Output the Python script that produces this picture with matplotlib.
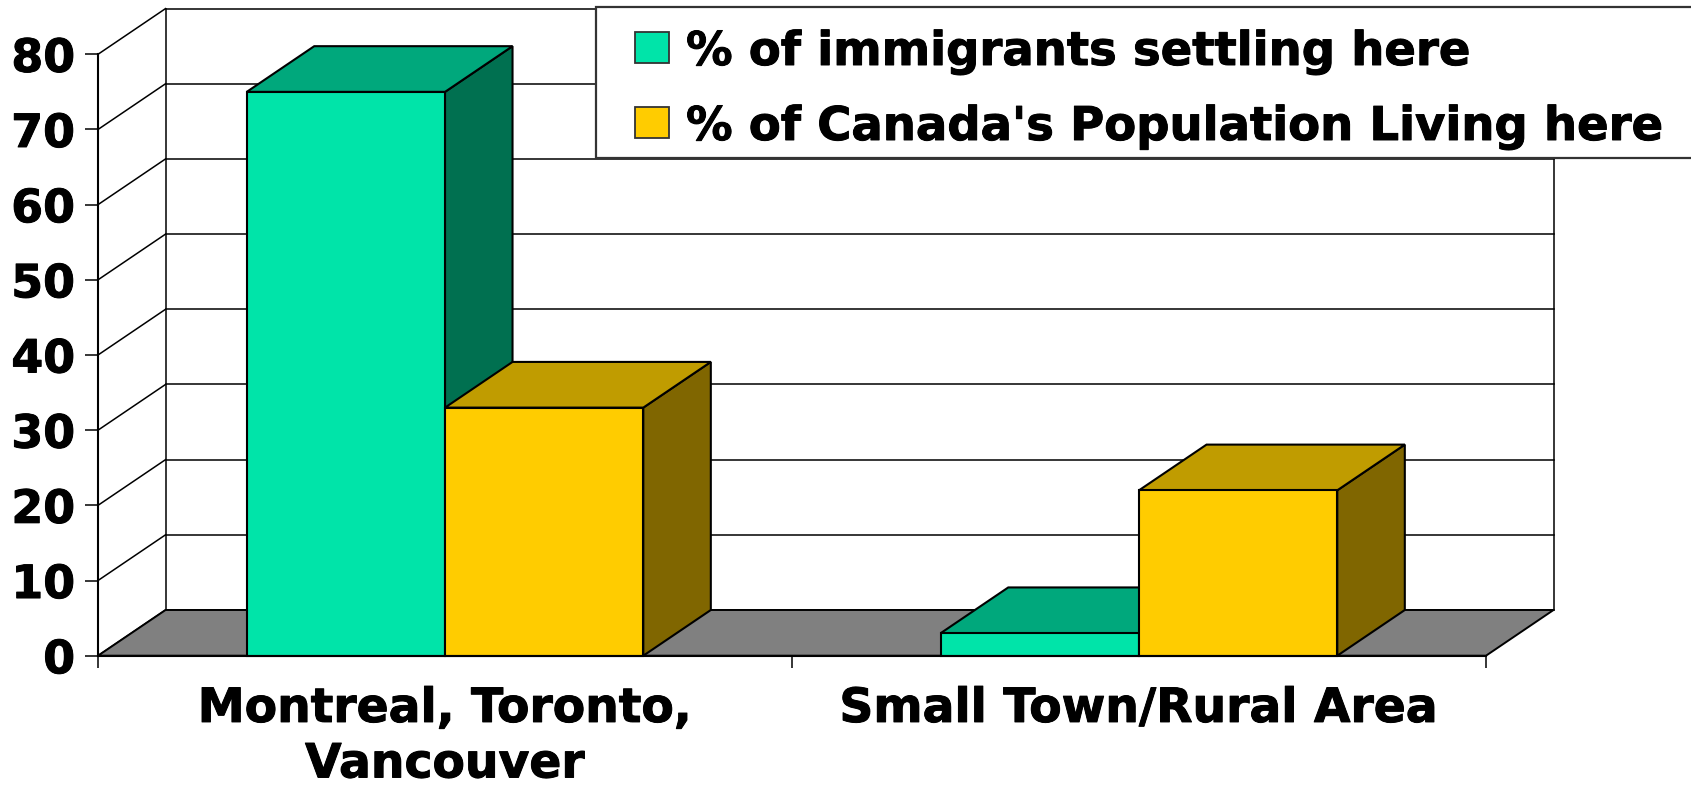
import numpy as np
import matplotlib.pyplot as plt
import matplotlib.patheffects as pe
from matplotlib.patches import Polygon, Rectangle
from matplotlib.transforms import Affine2D

# values (%) for each area
categories = ["Montreal, Toronto,\nVancouver", "Small Town/Rural Area"]
series_names = ["% of immigrants settling here", "% of Canada's Population Living here"]
immigrants = [75, 3]
population = [33, 22]

# face colours: front, top, side
teal = ("#00E4A9", "#00A87C", "#007050")
gold = ("#FFCC00", "#C09C00", "#806600")

W, H = 1691, 787
fig = plt.figure(figsize=(W / 100, H / 100), dpi=100)
ax = fig.add_axes([98 / W, 1 - 655.7 / H, 1388 / W, 601.4 / H])
ax.set_xlim(0, 2)
ax.set_ylim(0, 80)

# depth of the 3d box in data units
dx, dy = 0.0973, 6.08
font = dict(family="DejaVu Sans", weight="bold")
heavy = [pe.withStroke(linewidth=0.7, foreground="black")]

# back wall + side wall grid
for v in range(0, 90, 10):
    ax.plot([dx, 2 + dx], [v + dy, v + dy], color="black", lw=1.1, zorder=1, clip_on=False)
    ax.plot([0, dx], [v, v + dy], color="black", lw=1.1, zorder=1, clip_on=False)
ax.plot([dx, dx], [dy, 80 + dy], color="black", lw=1.1, zorder=1, clip_on=False)
ax.plot([2 + dx, 2 + dx], [dy, 80 + dy], color="black", lw=1.1, zorder=1, clip_on=False)

# grey floor
floor = Polygon([[0, 0], [2, 0], [2 + dx, dy], [dx, dy]], closed=True,
                facecolor="#808080", edgecolor="black", lw=1.4, zorder=2, clip_on=False)
ax.add_patch(floor)

w = 1 / 3.5  # gap width 150%
z = 3
for i in range(len(categories)):
    for j, (vals, cols) in enumerate([(immigrants, teal), (population, gold)]):
        left = i + 0.5 - w + j * w
        v = vals[i]
        side = Polygon([[left + w, 0], [left + w + dx, dy], [left + w + dx, v + dy], [left + w, v]],
                       closed=True, facecolor=cols[2], edgecolor="black", lw=1.5, zorder=z, clip_on=False)
        top = Polygon([[left, v], [left + w, v], [left + w + dx, v + dy], [left + dx, v + dy]],
                      closed=True, facecolor=cols[1], edgecolor="black", lw=1.5, zorder=z, clip_on=False)
        ax.add_patch(side)
        ax.add_patch(top)
        ax.bar(left, v, width=w, align="edge", color=cols[0], edgecolor="black",
               lw=1.5, zorder=z + 0.5, clip_on=False)
        z += 1

for s in ["top", "right"]:
    ax.spines[s].set_visible(False)
ax.spines["left"].set_linewidth(1.5)
ax.spines["bottom"].set_linewidth(1.5)
ax.spines["bottom"].set_zorder(20)
ax.spines["left"].set_zorder(20)
ax.set_facecolor("none")

ax.set_yticks(range(0, 90, 10))
ax.set_yticklabels([str(t) for t in range(0, 90, 10)], fontdict=dict(size=33, **font))
ax.tick_params(axis="y", length=9.4, width=1.1, pad=7)
ax.set_xticks([0, 1, 2])
ax.set_xticklabels([])
ax.tick_params(axis="x", which="major", length=8.6, width=1.1)
ax.set_xticks([0.5, 1.5], minor=True)
ax.set_xticklabels(categories, minor=True, fontdict=dict(size=34, **font), linespacing=1.3)
ax.tick_params(axis="x", which="minor", length=0, pad=22.5)
for lbl in ax.get_yticklabels() + ax.get_xticklabels(minor=True):
    lbl.set_path_effects(heavy)

# legend box, in pixel coordinates
px = Affine2D().scale(1 / W, -1 / H).translate(0, 1) + fig.transFigure
fig.patches.append(Rectangle((596, 6.7), 1200, 151.6, transform=px, facecolor="white",
                             edgecolor="#333333", lw=1.6, zorder=30))
for k, (name, cols) in enumerate(zip(series_names, [teal, gold])):
    yc = 47.5 + 75 * k
    fig.patches.append(Rectangle((635, yc - 15.5), 34, 31, transform=px, facecolor=cols[0],
                                 edgecolor="#333333", lw=1.3, zorder=31))
    t = fig.text(686, 65 + 75 * k, name, transform=px, va="baseline", ha="left",
                 size=33.5, zorder=32, **font)
    t.set_path_effects(heavy)

fig.savefig("out.png", dpi=100)
